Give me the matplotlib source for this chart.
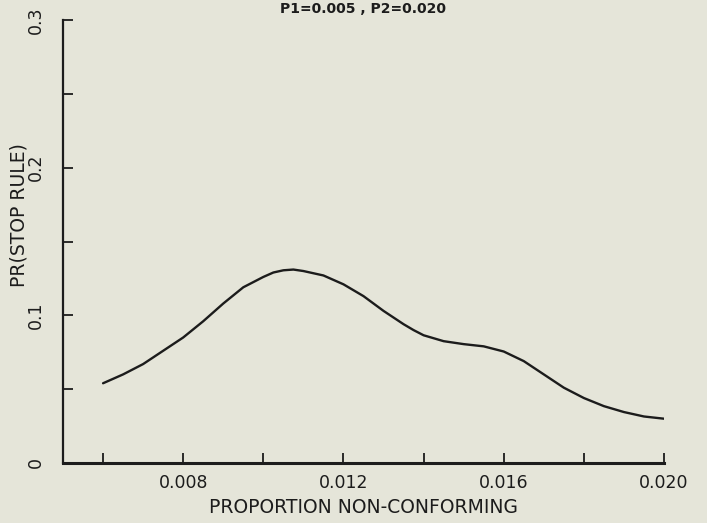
import numpy as np
import matplotlib
matplotlib.use("Agg")
import matplotlib.pyplot as plt

# proportion non-conforming vs probability the stop rule fires
p = np.array([0.0060, 0.0065, 0.0070, 0.0075, 0.0080, 0.0085, 0.0090, 0.0095,
              0.0100, 0.01025, 0.0105, 0.01075, 0.0110, 0.0115, 0.0120, 0.0125,
              0.0130, 0.0135, 0.01375, 0.0140, 0.0145, 0.0150, 0.0155, 0.0160,
              0.0165, 0.0170, 0.0175, 0.01775, 0.0180, 0.0185, 0.0190, 0.0195,
              0.0200])
pr_stop = np.array([0.054, 0.060, 0.067, 0.076, 0.085, 0.096, 0.108, 0.119,
                    0.126, 0.129, 0.1305, 0.131, 0.130, 0.127, 0.121, 0.113,
                    0.103, 0.094, 0.090, 0.0865, 0.0825, 0.0805, 0.079, 0.0755,
                    0.069, 0.060, 0.051, 0.0475, 0.044, 0.0385, 0.0345, 0.0315,
                    0.030])

x_major = [0.008, 0.012, 0.016, 0.020]
x_labels = ["0.008", "0.012", "0.016", "0.020"]
x_minor = [0.006, 0.010, 0.014, 0.018]
y_major = [0.0, 0.1, 0.2, 0.3]
y_labels = ["0", "0.1", "0.2", "0.3"]
y_minor = [0.05, 0.15, 0.25]

bg = "#e5e5d9"
ink = "#1c1c1c"

fig = plt.figure(figsize=(7.07, 5.23), dpi=100, facecolor=bg)
ax = fig.add_axes([63 / 707, 1 - 463 / 523, 601 / 707, 443 / 523])
ax.set_facecolor(bg)

ax.plot(p, pr_stop, color=ink, lw=1.7, solid_capstyle="round",
        solid_joinstyle="round")

ax.set_xlim(0.005, 0.020)
ax.set_ylim(0, 0.3)

for s in ("top", "right"):
    ax.spines[s].set_visible(False)
ax.spines["left"].set_linewidth(1.6)
ax.spines["bottom"].set_linewidth(2.2)
ax.spines["left"].set_color(ink)
ax.spines["bottom"].set_color(ink)

ax.set_xticks(x_major)
ax.set_xticklabels(x_labels)
ax.set_xticks(x_minor, minor=True)
ax.set_yticks(y_major)
ax.set_yticklabels(y_labels, rotation=90, va="center")
ax.set_yticks(y_minor, minor=True)

ax.tick_params(axis="both", which="both", direction="in", length=7,
               width=1.3, color=ink, labelcolor=ink, labelsize=12.5)
ax.tick_params(axis="x", which="major", pad=8)
ax.tick_params(axis="y", which="major", pad=13)

ax.set_xlabel("PROPORTION NON-CONFORMING", fontsize=13.5, color=ink,
              labelpad=4)
ax.set_ylabel("PR(STOP RULE)", fontsize=13.5, color=ink)
ax.yaxis.set_label_coords(-0.058, 0.56)

fig.text(363 / 707, 1 - 9 / 523, "P1=0.005 , P2=0.020", ha="center",
         va="center", fontsize=10, fontweight="bold", color=ink)

fig.savefig("out.png", dpi=100, facecolor=bg)
